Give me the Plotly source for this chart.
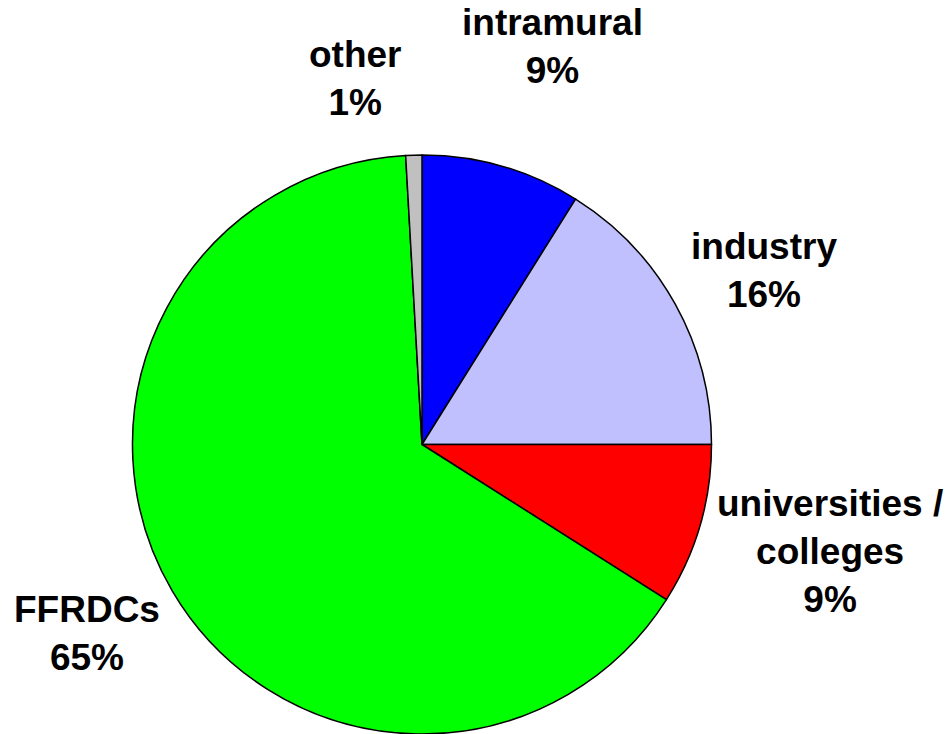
import plotly.graph_objects as go

labels = ["intramural", "industry", "universities / colleges", "FFRDCs", "other"]
values = [8.9, 16.1, 9.0, 65.1, 0.9]
colors = ["#0000FF", "#C0C0FF", "#FF0000", "#00FF00", "#C0C0C0"]
label_text = ["intramural", "industry", "universities /<br>colleges", "FFRDCs", "other"]

W, H = 948, 734

fig = go.Figure(go.Pie(
    labels=labels, values=values, sort=False, direction="clockwise", rotation=0,
    marker=dict(colors=colors, line=dict(color="black", width=1.5)),
    textinfo="none", hoverinfo="label+percent",
    domain=dict(x=[132 / W, 712 / W], y=[0, 579 / H]),
    showlegend=False,
))

total = sum(values)
# label block centers in pixels (x, y from top)
label_pos = [(552, 46), (764, 270), (830, 551), (87, 633), (355, 78)]
anns = []
for txt, v, (px, py) in zip(label_text, values, label_pos):
    anns.append(dict(
        text=f"{txt}<br>{round(100 * v / total)}%",
        x=px / W, y=1 - py / H, xref="paper", yref="paper",
        xanchor="center", yanchor="middle", showarrow=False, align="center",
        font=dict(family="Liberation Sans, Arial, sans-serif", size=37, color="black", weight="bold"),
    ))

fig.update_layout(
    width=W, height=H, margin=dict(l=0, r=0, t=0, b=0),
    paper_bgcolor="white", plot_bgcolor="white",
    annotations=anns,
)
fig.write_html(
    "out.html",
    config={"displayModeBar": False},
    post_script="document.body.style.margin='0';document.body.style.overflow='hidden';",
)
